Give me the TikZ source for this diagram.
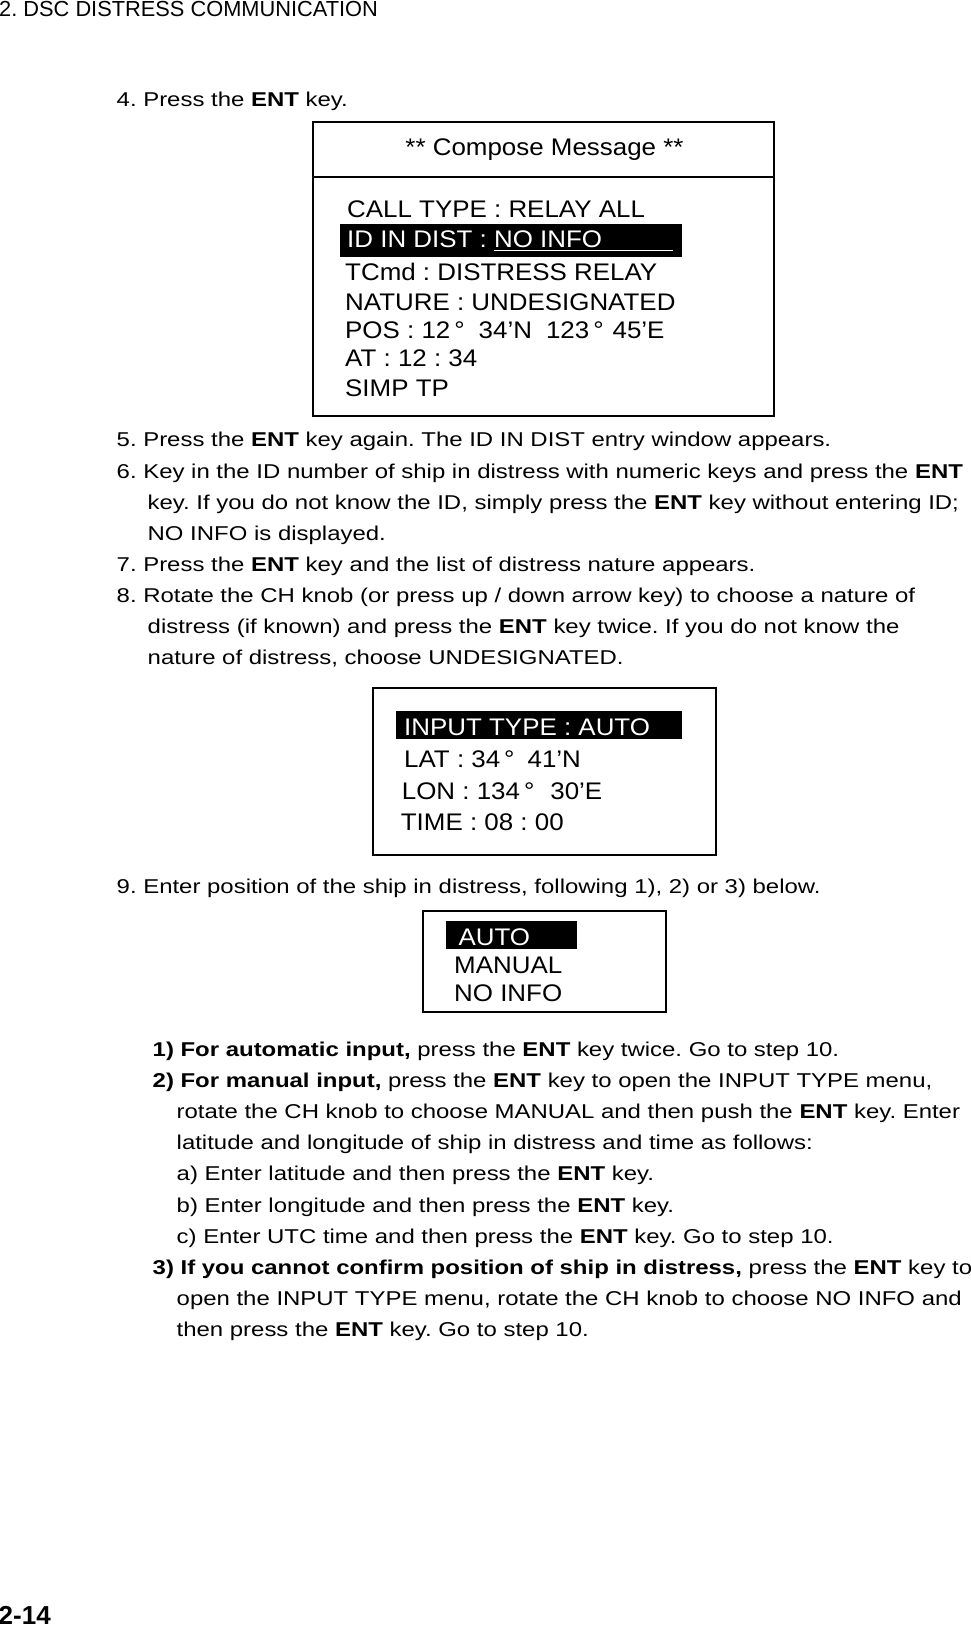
\documentclass[tikz,border=0pt]{standalone}
\usepackage{fontspec}
\setmainfont{Liberation Sans}[FakeStretch=1.197]
\newfontfamily\lcdfont{Liberation Sans}[FakeStretch=1.08]
\newfontfamily\headfont{Liberation Sans}
\usepackage{tikz}
\frenchspacing

\begin{document}
\begin{tikzpicture}[x=1pt,y=-1pt,
		txt/.style={anchor=base west,inner sep=0pt,font=\fontsize{20}{24}\selectfont},
		lcd/.style={anchor=base west,inner sep=0pt,font=\lcdfont\fontsize{24}{28}\selectfont},
		lcdinv/.style={lcd,text=white},
		frame/.style={line width=1.8pt}]
		\useasboundingbox (0,0) rectangle (971,1628);
		
		% Kopfzeile und Seitenzahl
		\node[anchor=base west,inner sep=0pt,font=\headfont\fontsize{21.8}{26}\selectfont] (kopf) at (-1,16.7) {2. DSC DISTRESS COMMUNICATION};
		\node[anchor=base west,inner sep=0pt,font=\headfont\bfseries\fontsize{26}{30}\selectfont] (seite) at (-1.5,1624.5) {2-14};
		
		% Schritt 4
		\node[txt] (s4) at (116.5,106.7) {4. Press the \textbf{ENT} key.};
		
		% Anzeige 1: Compose Message
		\draw[frame] (313,122) rectangle (774,416);
		\draw[frame] (313,177) -- (774,177);
		\node[lcd,anchor=base] (titel) at (544.5,155) {** Compose Message **};
		\node[lcd] (calltype) at (347,217.3) {CALL TYPE : RELAY ALL};
		\fill (340,224.3) rectangle (681.7,256.7);
		\node[lcdinv] (iddist) at (347,247.7) {ID IN DIST : NO INFO};
		\draw[white,line width=1.3pt] (494,250.5) -- (673,250.5);
		\node[lcd] (tcmd) at (345,280) {TCmd : DISTRESS RELAY};
		\node[lcd] (nature) at (345,310) {NATURE : UNDESIGNATED};
		\node[lcd] (pos) at (345,338.3) {POS : 12\,°\hspace{14pt}34’N\hspace{14pt}123\,°\hspace{9pt}45’E};
		\node[lcd] (at) at (345,366) {AT : 12 : 34};
		\node[lcd] (simptp) at (345,396) {SIMP TP};
		
		% Schritte 5 bis 8
		\node[txt] (s5) at (116.5,446.7) {5. Press the \textbf{ENT} key again. The ID IN DIST entry window appears.};
		\node[txt] (s6) at (116.5,478.3) {6. Key in the ID number of ship in distress with numeric keys and press the \textbf{ENT}};
		\node[txt] (s6b) at (147.5,509.4) {key. If you do not know the ID, simply press the \textbf{ENT} key without entering ID;};
		\node[txt] (s6c) at (147.5,540.5) {NO INFO is displayed.};
		\node[txt] (s7) at (116.5,571.6) {7. Press the \textbf{ENT} key and the list of distress nature appears.};
		\node[txt] (s8) at (116.5,602.7) {8. Rotate the CH knob (or press up / down arrow key) to choose a nature of};
		\node[txt] (s8b) at (147.5,633.8) {distress (if known) and press the \textbf{ENT} key twice. If you do not know the};
		\node[txt] (s8c) at (147.5,664.9) {nature of distress, choose UNDESIGNATED.};
		
		% Anzeige 2: INPUT TYPE
		\draw[frame] (372.7,688.3) rectangle (716,855);
		\fill (396,711) rectangle (681.7,739.3);
		\node[lcdinv] (inputtype) at (404,735) {INPUT TYPE : AUTO};
		\node[lcd] (lat) at (404,767.3) {LAT : 34\,°\hspace{13pt}41’N};
		\node[lcd] (lon) at (401.7,799) {LON : 134\,°\hspace{16pt}30’E};
		\node[lcd] (time) at (400.7,830) {TIME : 08 : 00};
		
		% Schritt 9
		\node[txt] (s9) at (116.5,893.5) {9. Enter position of the ship in distress, following 1), 2) or 3) below.};
		
		% Anzeige 3: Auswahl
		\draw[frame] (422.7,911) rectangle (666,1011.7);
		\fill (446,921) rectangle (576.7,949.3);
		\node[lcdinv] (auto) at (458.3,945) {AUTO};
		\node[lcd] (manual) at (454,973.3) {MANUAL};
		\node[lcd] (noinfo) at (454,1001.7) {NO INFO};
		
		% Unterpunkte 1) bis 3)
		\node[txt] (u1) at (152.5,1056.5) {\textbf{1) For automatic input,} press the \textbf{ENT} key twice. Go to step 10.};
		\node[txt] (u2) at (152.5,1087.6) {\textbf{2) For manual input,} press the \textbf{ENT} key to open the INPUT TYPE menu,};
		\node[txt] (u2b) at (176.5,1118.7) {rotate the CH knob to choose MANUAL and then push the \textbf{ENT} key. Enter};
		\node[txt] (u2c) at (176.5,1149.8) {latitude and longitude of ship in distress and time as follows:};
		\node[txt] (u2d) at (176.5,1180.9) {a) Enter latitude and then press the \textbf{ENT} key.};
		\node[txt] (u2e) at (176.5,1212.0) {b) Enter longitude and then press the \textbf{ENT} key.};
		\node[txt] (u2f) at (176.5,1243.1) {c) Enter UTC time and then press the \textbf{ENT} key. Go to step 10.};
		\node[txt] (u3) at (152.5,1274.2) {\textbf{3) If you cannot confirm position of ship in distress,} press the \textbf{ENT} key to};
		\node[txt] (u3b) at (176.5,1305.3) {open the INPUT TYPE menu, rotate the CH knob to choose NO INFO and};
		\node[txt] (u3c) at (176.5,1336.4) {then press the \textbf{ENT} key. Go to step 10.};
		
	\end{tikzpicture}
\end{document}
